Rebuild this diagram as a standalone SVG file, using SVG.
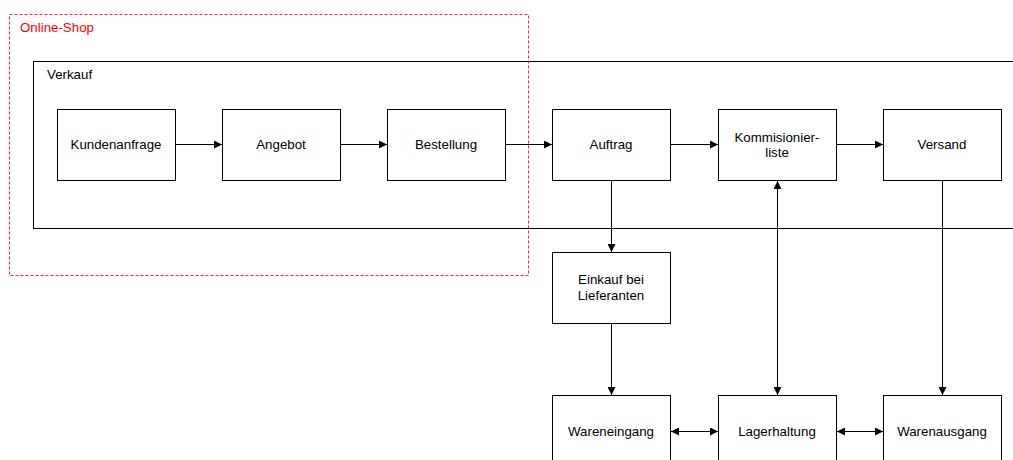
<svg xmlns="http://www.w3.org/2000/svg" width="1013" height="460" viewBox="0 0 1013 460">
<style>
.box{fill:#fff;stroke:#000;stroke-width:1}
.t{font-family:"Liberation Sans",Arial,sans-serif;font-size:13.3px;fill:#000;text-anchor:middle}
.lbl{font-family:"Liberation Sans",Arial,sans-serif;font-size:13.3px}
.c{stroke:#000;stroke-width:1;fill:none}
</style>
<defs>
<marker id="ah" viewBox="0 0 10 10" refX="10" refY="5" markerWidth="8" markerHeight="8" markerUnits="userSpaceOnUse" orient="auto-start-reverse">
<path d="M0,0 L10,5 L0,10 Z" fill="#000"/>
</marker>
</defs>
<g id="verkauf">
<rect x="33.5" y="61.5" width="990" height="167" fill="none" stroke="#000"/>
<text class="lbl" x="47" y="79">Verkauf</text>
</g>
<g id="kundenanfrage"><rect class="box" x="57.5" y="109.5" width="118" height="71"/><text class="t" x="116" y="149">Kundenanfrage</text></g>
<g id="angebot"><rect class="box" x="222.5" y="109.5" width="118" height="71"/><text class="t" x="281" y="149">Angebot</text></g>
<g id="bestellung"><rect class="box" x="387.5" y="109.5" width="118" height="71"/><text class="t" x="446" y="149">Bestellung</text></g>
<g id="auftrag"><rect class="box" x="552.5" y="109.5" width="118" height="71"/><text class="t" x="611" y="149">Auftrag</text></g>
<g id="kommisionierliste"><rect class="box" x="718.5" y="109.5" width="118" height="71"/><text class="t" x="777" y="142">Kommisionier-</text><text class="t" x="777" y="157">liste</text></g>
<g id="versand"><rect class="box" x="883.5" y="109.5" width="118" height="71"/><text class="t" x="942" y="149">Versand</text></g>
<g id="einkauf"><rect class="box" x="552.5" y="252.5" width="118" height="71"/><text class="t" x="611" y="284">Einkauf bei</text><text class="t" x="611" y="300">Lieferanten</text></g>
<g id="wareneingang"><rect class="box" x="552.5" y="395.5" width="118" height="80"/><text class="t" x="611" y="436">Wareneingang</text></g>
<g id="lagerhaltung"><rect class="box" x="718.5" y="395.5" width="118" height="80"/><text class="t" x="777" y="436">Lagerhaltung</text></g>
<g id="warenausgang"><rect class="box" x="883.5" y="395.5" width="118" height="80"/><text class="t" x="942" y="436">Warenausgang</text></g>
<g id="online-shop">
<rect x="9.5" y="14.5" width="519" height="261" fill="none" stroke="#f22" stroke-dasharray="3,2"/>
<text class="lbl" x="20" y="32" fill="#f00">Online-Shop</text>
</g>
<g id="connectors">
<path class="c" d="M175.5,144.5 H222" marker-end="url(#ah)"/>
<path class="c" d="M340.5,144.5 H387" marker-end="url(#ah)"/>
<path class="c" d="M505.5,144.5 H552" marker-end="url(#ah)"/>
<path class="c" d="M670.5,144.5 H718" marker-end="url(#ah)"/>
<path class="c" d="M836.5,144.5 H883" marker-end="url(#ah)"/>
<path class="c" d="M611.5,180.5 V252" marker-end="url(#ah)"/>
<path class="c" d="M611.5,323.5 V395" marker-end="url(#ah)"/>
<path class="c" d="M777.5,181 V395" marker-start="url(#ah)" marker-end="url(#ah)"/>
<path class="c" d="M942.5,180.5 V395" marker-end="url(#ah)"/>
<path class="c" d="M671,431.5 H718" marker-start="url(#ah)" marker-end="url(#ah)"/>
<path class="c" d="M837,431.5 H883" marker-start="url(#ah)" marker-end="url(#ah)"/>
</g>
</svg>
